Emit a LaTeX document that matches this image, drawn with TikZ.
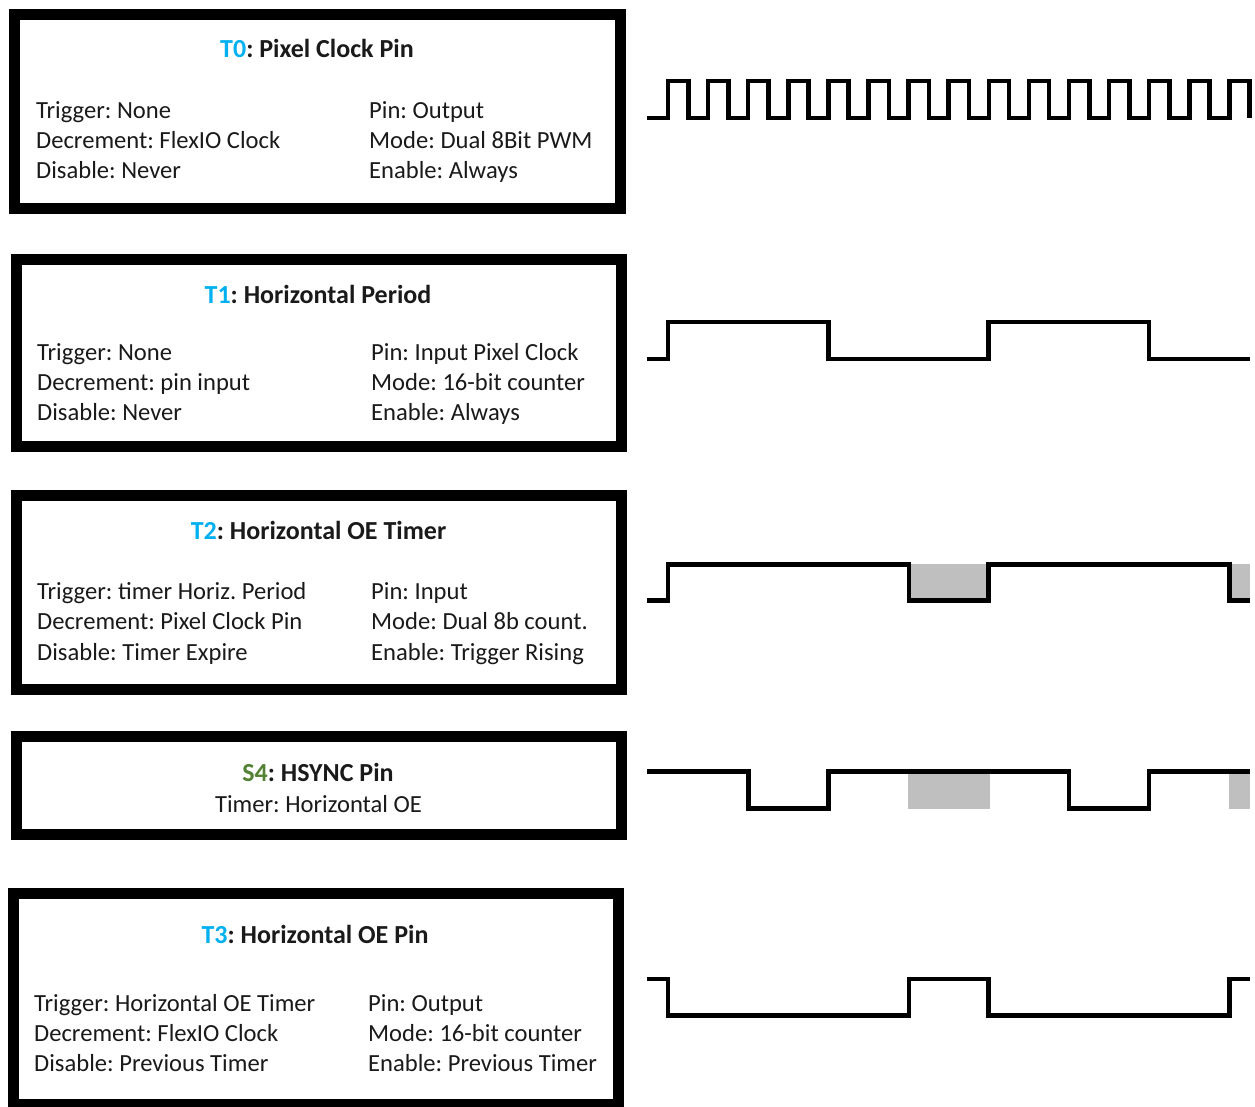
\documentclass[tikz,border=0pt]{standalone}
\usepackage{fontspec}
\setmainfont{Carlito}
\definecolor{tblue}{HTML}{00B0F0}
\definecolor{sgreen}{HTML}{548235}
\definecolor{shade}{HTML}{BFBFBF}
\definecolor{txt}{HTML}{1A1A1A}
\begin{document}
\frenchspacing
\begin{tikzpicture}[x=1pt,y=-1pt,
  box/.style={draw, line width=11pt, rectangle, inner sep=0pt},
  lbl/.style={anchor=base west, inner sep=0pt, text=txt, font=\frenchspacing\fontsize{24.6}{28}\selectfont},
  ttl/.style={anchor=base, inner sep=0pt, text=txt, font=\frenchspacing\bfseries\fontsize{26}{30}\selectfont},
  sub/.style={anchor=base, inner sep=0pt, text=txt, font=\frenchspacing\fontsize{24.6}{28}\selectfont},
  wave/.style={line width=4.5pt, line join=miter, line cap=butt},
  gray/.style={fill=shade, draw=none}]
\useasboundingbox (0,0) rectangle (1255,1107);
\fill[white] (0,0) rectangle (1255,1107);

% boxes
\node[box, minimum width=606pt, minimum height=194pt] (b0) at (317.5,111.5) {};
\node[box, minimum width=605pt, minimum height=187pt] (b1) at (319,353) {};
\node[box, minimum width=605pt, minimum height=194pt] (b2) at (319,592.5) {};
\node[box, minimum width=605pt, minimum height=98pt] (b4) at (319,785.5) {};
\node[box, minimum width=605pt, minimum height=210.5pt] (b3) at (316,998.75) {};

% T0
\node[ttl] (t0) at (317,58) {\textcolor{tblue}{T0}: Pixel Clock Pin};
\node[lbl] (t0a) at (36,119) {Trigger: None};
\node[lbl] (t0b) at (36,149) {Decrement: FlexIO Clock};
\node[lbl] (t0c) at (36,179) {Disable: Never};
\node[lbl] (t0d) at (369,119) {Pin: Output};
\node[lbl] (t0e) at (369,149) {Mode: Dual 8Bit PWM};
\node[lbl] (t0f) at (369,179) {Enable: Always};

% T1
\node[ttl] (t1) at (318,303) {\textcolor{tblue}{T1}: Horizontal Period};
\node[lbl] (t1a) at (37,360) {Trigger: None};
\node[lbl] (t1b) at (37,390) {Decrement: pin input};
\node[lbl] (t1c) at (37,420) {Disable: Never};
\node[lbl] (t1d) at (371,360) {Pin: Input Pixel Clock};
\node[lbl] (t1e) at (371,390) {Mode: 16-bit counter};
\node[lbl] (t1f) at (371,420) {Enable: Always};

% T2
\node[ttl] (t2) at (318.5,539) {\textcolor{tblue}{T2}: Horizontal OE Timer};
\node[lbl] (t2a) at (37,599) {Trigger: timer Horiz. Period};
\node[lbl] (t2b) at (37,629) {Decrement: Pixel Clock Pin};
\node[lbl] (t2c) at (37,660) {Disable: Timer Expire};
\node[lbl] (t2d) at (371,599) {Pin: Input};
\node[lbl] (t2e) at (371,629) {Mode: Dual 8b count.};
\node[lbl] (t2f) at (371,660) {Enable: Trigger Rising};

% S4
\node[ttl] (s4) at (318,781) {\textcolor{sgreen}{S4}: HSYNC Pin};
\node[sub] (s4a) at (318.5,812) {Timer: Horizontal OE};

% T3
\node[ttl] (t3) at (315,943) {\textcolor{tblue}{T3}: Horizontal OE Pin};
\node[lbl] (t3a) at (34,1011) {Trigger: Horizontal OE Timer};
\node[lbl] (t3b) at (34,1041) {Decrement: FlexIO Clock};
\node[lbl] (t3c) at (34,1071) {Disable: Previous Timer};
\node[lbl] (t3d) at (368,1011) {Pin: Output};
\node[lbl] (t3e) at (368,1041) {Mode: 16-bit counter};
\node[lbl] (t3f) at (368,1071) {Enable: Previous Timer};

% waveform T0 (clock)
\draw[wave] (647,118) \foreach \k in {0,...,14}{
  -- ({668+40.1*\k},118) -- ({668+40.1*\k},81) -- ({688.3+40.1*\k},81) -- ({688.3+40.1*\k},118)};

% waveform T1
\draw[wave] (647,359) -- (668,359) -- (668,322) -- (828.3,322) -- (828.3,359)
  -- (988.6,359) -- (988.6,322) -- (1148.8,322) -- (1148.8,359) -- (1250,359);

% waveform T2
\fill[gray] (908.8,564) rectangle (988.6,600.7);
\fill[gray] (1229.3,564) rectangle (1250,600.7);
\draw[wave] (647,600.7) -- (668,600.7) -- (668,564.3) -- (908.8,564.3) -- (908.8,600.7)
  -- (988.6,600.7) -- (988.6,564.3) -- (1229.3,564.3) -- (1229.3,600.7) -- (1250,600.7);

% waveform S4
\fill[gray] (908.4,772) rectangle (989.7,809.3);
\fill[gray] (1228.5,772) rectangle (1250,809.3);
\draw[wave] (647,771.7) -- (748.6,771.7) -- (748.6,808.7) -- (828.3,808.7) -- (828.3,771.7)
  -- (1069,771.7) -- (1069,808.7) -- (1148.8,808.7) -- (1148.8,771.7) -- (1250,771.7);

% waveform T3
\draw[wave] (647,979) -- (668,979) -- (668,1015.7) -- (908.8,1015.7) -- (908.8,979)
  -- (988.6,979) -- (988.6,1015.7) -- (1229.3,1015.7) -- (1229.3,979) -- (1250,979);
\end{tikzpicture}
\end{document}
